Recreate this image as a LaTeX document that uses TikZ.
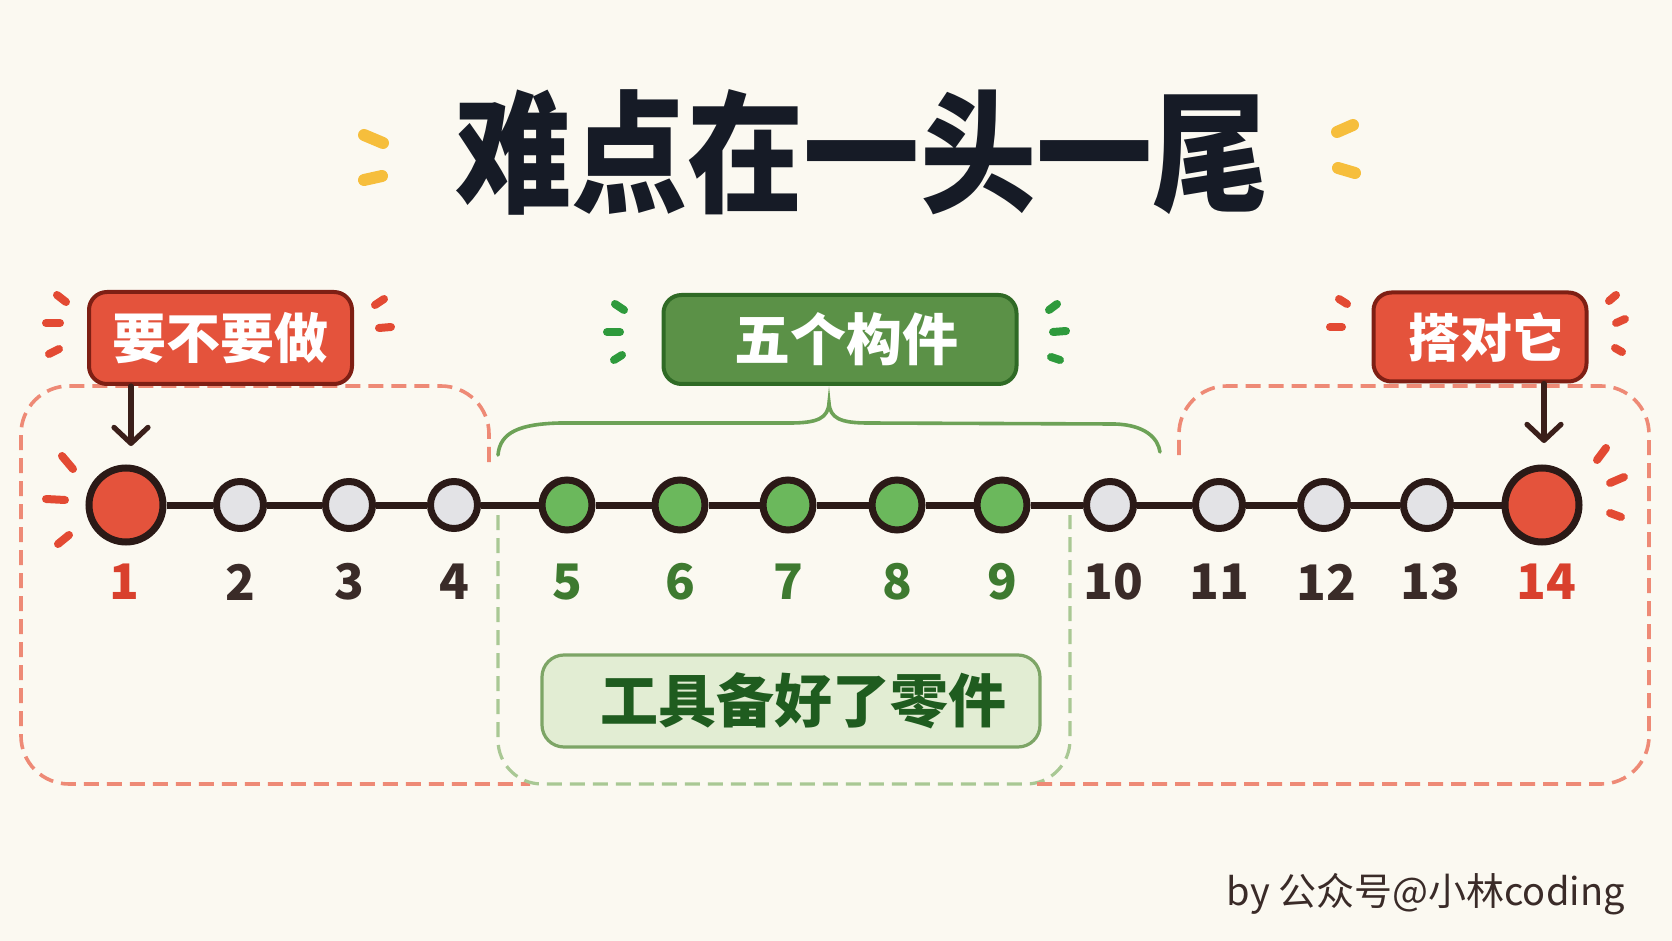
\documentclass[tikz,border=0pt]{standalone}
\usepackage{fontspec}
\newfontfamily\cjk{Noto Sans CJK SC}
\usetikzlibrary{arrows.meta}
\definecolor{bgc}{HTML}{FBF9F1}
\definecolor{redfill}{HTML}{E4533C}
\definecolor{redborder}{HTML}{7E1F14}
\definecolor{ringc}{HTML}{2B1A17}
\definecolor{grayfill}{HTML}{E3E3E6}
\definecolor{gnodefill}{HTML}{6BB85C}
\definecolor{gboxfill}{HTML}{5B9147}
\definecolor{gboxborder}{HTML}{2F6A25}
\definecolor{lboxfill}{HTML}{E2EDD3}
\definecolor{lboxborder}{HTML}{7DA566}
\definecolor{lboxtext}{HTML}{1F5C1F}
\definecolor{numgreen}{HTML}{3E7A30}
\definecolor{numred}{HTML}{D9402D}
\definecolor{numdark}{HTML}{3A2B28}
\definecolor{sparkred}{HTML}{E34A33}
\definecolor{sparkgreen}{HTML}{2E9A3C}
\definecolor{sparkyellow}{HTML}{F6BE3C}
\definecolor{bracec}{HTML}{6DA257}
\definecolor{reddashc}{HTML}{EE8A76}
\definecolor{greendashc}{HTML}{A9C894}
\definecolor{titlec}{HTML}{161B26}
\definecolor{arrowc}{HTML}{3B1F1A}
\begin{document}
\begin{tikzpicture}[x=0.5pt,y=-0.5pt,
  redn/.style={circle,draw=ringc,line width=3.5pt,fill=redfill,minimum size=37pt,inner sep=0pt},
  grayn/.style={circle,draw=ringc,line width=3.5pt,fill=grayfill,minimum size=23.5pt,inner sep=0pt},
  greenn/.style={circle,draw=ringc,line width=3.5pt,fill=gnodefill,minimum size=25pt,inner sep=0pt},
  mainline/.style={draw=ringc,line width=3.5pt},
  numlbl/.style={font=\cjk\bfseries\fontsize{24.5pt}{27pt}\selectfont,inner sep=0pt},
  redbox/.style={draw=redborder,fill=redfill,line width=2pt,rounded corners=9pt,text=white,inner sep=0pt},
  greenbox/.style={draw=gboxborder,fill=gboxfill,line width=2pt,rounded corners=9pt,text=white,inner sep=0pt},
  lightbox/.style={draw=lboxborder,fill=lboxfill,line width=1.6pt,rounded corners=11pt,text=lboxtext,inner sep=0pt},
  arr/.style={draw=arrowc,line width=2.6pt,line cap=round,-{Straight Barb[length=8pt,width=17pt,line cap=round,line join=round]}},
  sparkR/.style={draw=sparkred,line width=4pt,line cap=round},
  sparkG/.style={draw=sparkgreen,line width=4pt,line cap=round},
  sparkY/.style={draw=sparkyellow,line width=6pt,line cap=round},
  reddash/.style={draw=reddashc,line width=1.8pt,dash pattern=on 7.5pt off 4pt},
  greendash/.style={draw=greendashc,line width=1.6pt,dash pattern=on 7.5pt off 4pt},
  bracestyle/.style={draw=bracec,line width=1.8pt,line cap=round}
]
\useasboundingbox (0,0) rectangle (1672,941);
\fill[bgc] (0,0) rectangle (1672,941);

% dashed regions
\draw[reddash,rounded corners=24pt] (489,462) -- (489,386) -- (21,386) -- (21,784) -- (530,784);
\draw[greendash,rounded corners=22pt] (498,515) -- (498,784) -- (1070,784) -- (1070,515);
\draw[reddash,rounded corners=24pt] (1179,455) -- (1179,386) -- (1649,386) -- (1649,784) -- (1036,784);

% brace
\draw[bracestyle] (498,455) .. controls (500,432) and (520,424) .. (560,423) -- (790,423)
  .. controls (818,423) and (828,418) .. (829,403)
  .. controls (830,418) and (840,423) .. (868,423) -- (1115,424)
  .. controls (1145,425) and (1158,438) .. (1160,452);

% timeline nodes
\node[redn]   (n1)  at (126,505) {};
\node[grayn]  (n2)  at (240,505) {};
\node[grayn]  (n3)  at (349,505) {};
\node[grayn]  (n4)  at (454,505) {};
\node[greenn] (n5)  at (567,505) {};
\node[greenn] (n6)  at (680,505) {};
\node[greenn] (n7)  at (788,505) {};
\node[greenn] (n8)  at (897,505) {};
\node[greenn] (n9)  at (1002,505) {};
\node[grayn]  (n10) at (1110,505) {};
\node[grayn]  (n11) at (1219,505) {};
\node[grayn]  (n12) at (1324,505) {};
\node[grayn]  (n13) at (1427,505) {};
\node[redn]   (n14) at (1542,505) {};
\foreach \a/\b in {1/2,2/3,3/4,4/5,5/6,6/7,7/8,8/9,9/10,10/11,11/12,12/13,13/14}
  \draw[mainline] (n\a) -- (n\b);

% number labels
\node[numlbl,text=numred]   (l1)  at (124,582) {1};
\node[numlbl,text=numdark]  (l2)  at (240,582) {2};
\node[numlbl,text=numdark]  (l3)  at (349,582) {3};
\node[numlbl,text=numdark]  (l4)  at (454,582) {4};
\node[numlbl,text=numgreen] (l5)  at (567,582) {5};
\node[numlbl,text=numgreen] (l6)  at (680,582) {6};
\node[numlbl,text=numgreen] (l7)  at (788,582) {7};
\node[numlbl,text=numgreen] (l8)  at (897,582) {8};
\node[numlbl,text=numgreen] (l9)  at (1002,582) {9};
\node[numlbl,text=numdark]  (l10) at (1113,582) {10};
\node[numlbl,text=numdark]  (l11) at (1219,582) {11};
\node[numlbl,text=numdark]  (l12) at (1326,582) {12};
\node[numlbl,text=numdark]  (l13) at (1430,582) {13};
\node[numlbl,text=numred]   (l14) at (1546,582) {14};

% boxes
\node[redbox,minimum width=131.5pt,minimum height=46pt,font=\cjk\bfseries\fontsize{27pt}{30pt}\selectfont] (b1) at (220.5,338) {要不要做};
\node[greenbox,minimum width=176.5pt,minimum height=44.5pt,font=\cjk\bfseries\fontsize{28pt}{30pt}\selectfont] (b2) at (840,339.5) {\hspace{6pt}五个构件};
\node[redbox,minimum width=106.5pt,minimum height=44.5pt,font=\cjk\bfseries\fontsize{26pt}{28pt}\selectfont] (b3) at (1480,337) {\hspace{6pt}搭对它};
\node[lightbox,minimum width=249pt,minimum height=46pt,font=\cjk\bfseries\fontsize{29pt}{31pt}\selectfont] (b4) at (791,701) {\hspace{12pt}工具备好了零件};

% arrows
\draw[arr,shorten >=9.25pt] ([xshift=2.5pt]b1.south -| n1) -- ([xshift=2.5pt]n1.north);
\draw[arr,shorten >=10.75pt] ([xshift=1pt]b3.south -| n14) -- ([xshift=1pt]n14.north);

% sparks
\draw[sparkR] (57,295) -- (66,302);
\draw[sparkR] (46,323) -- (60,323);
\draw[sparkR] (49,354) -- (59,349);
\draw[sparkR] (375,305) -- (384,299);
\draw[sparkR] (379,328) -- (391,327);
\draw[sparkR] (62,456) -- (73,469);
\draw[sparkR] (46,499) -- (65,500);
\draw[sparkR] (58,544) -- (69,535);
\draw[sparkG] (615,304) -- (624,310);
\draw[sparkG] (607,332) -- (620,332);
\draw[sparkG] (614,360) -- (622,355);
\draw[sparkG] (1049,310) -- (1057,304);
\draw[sparkG] (1053,332) -- (1066,331);
\draw[sparkG] (1051,357) -- (1060,360);
\draw[sparkR] (1339,299) -- (1347,304);
\draw[sparkR] (1330,327) -- (1342,327);
\draw[sparkR] (1609,301) -- (1616,295);
\draw[sparkR] (1616,323) -- (1625,319);
\draw[sparkR] (1615,348) -- (1622,352);
\draw[sparkR] (1597,460) -- (1606,448);
\draw[sparkR] (1610,483) -- (1624,477);
\draw[sparkR] (1610,513) -- (1621,517);
\draw[sparkY] (364,135) -- (383,143);
\draw[sparkY] (364,180) -- (382,176);
\draw[sparkY] (1337,132) -- (1353,125);
\draw[sparkY] (1338,168) -- (1355,173);

% title
\node[text=titlec,inner sep=0pt,font=\cjk\bfseries\fontsize{66pt}{70pt}\selectfont] (title) at (862,152) {\scalebox{0.88}[1]{难点在一头一尾}};

% watermark
\node[anchor=base east,inner sep=0pt,text=numdark,font=\cjk\fontsize{19pt}{21pt}\selectfont] (wm) at (1625,905) {by 公众号@小林coding};
\end{tikzpicture}
\end{document}
